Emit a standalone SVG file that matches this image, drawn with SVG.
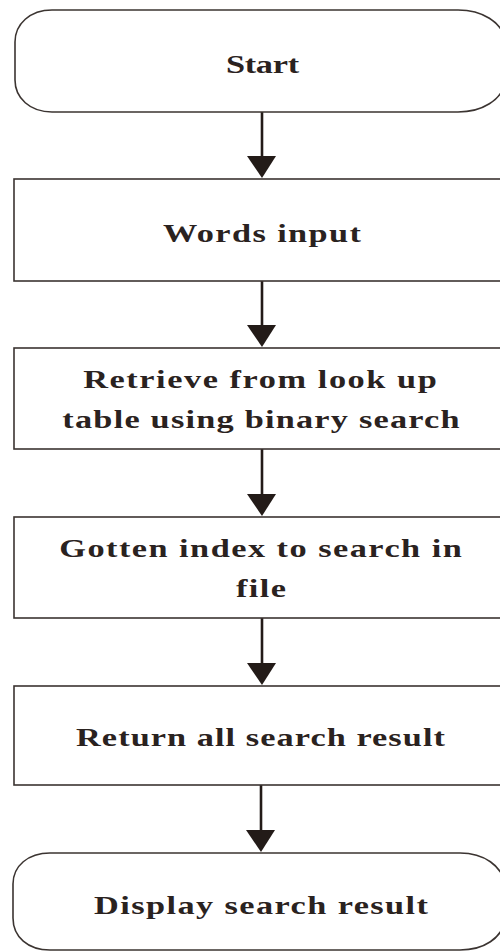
<svg xmlns="http://www.w3.org/2000/svg" width="500" height="951" viewBox="0 0 500 951">
  <defs>
    <style>
      .box { fill: #ffffff; stroke: #3b3431; stroke-width: 1.6; }
      .flow { stroke: #231b18; stroke-width: 2.6; fill: none; }
      .head { fill: #231b18; }
      .lbl { font-family: "Liberation Serif", "Times New Roman", serif; font-weight: bold; font-size: 26px; fill: #2a2220; text-anchor: middle; }
    </style>
  </defs>
  <rect width="500" height="951" fill="#ffffff"/>

  <!-- connectors -->
  <g id="connectors">
    <line class="flow" x1="262" y1="112" x2="262" y2="158"/>
    <polygon class="head" points="247,156 276,156 262,178"/>
    <line class="flow" x1="262" y1="281" x2="262" y2="327"/>
    <polygon class="head" points="247,325 276,325 262,347"/>
    <line class="flow" x1="262" y1="449" x2="262" y2="496"/>
    <polygon class="head" points="247,494 276,494 262,516"/>
    <line class="flow" x1="262" y1="618" x2="262" y2="665"/>
    <polygon class="head" points="247,663 276,663 262,685"/>
    <line class="flow" x1="261" y1="785" x2="261" y2="832"/>
    <polygon class="head" points="246,830 275,830 261,852"/>
  </g>

  <!-- terminal: Start -->
  <g id="start">
    <path class="box" d="M52,10 H458 C482,10 502,22 505,40 V82 C502,100 482,112 458,112 H52 C30,112 15,98 15,80 V42 C15,24 30,10 52,10 Z"/>
    <text class="lbl" transform="translate(262.5,73) scale(1.32,1)" x="0" y="0" textLength="55.5">Start</text>
  </g>

  <!-- process: Words input -->
  <g id="words-input">
    <rect class="box" x="14" y="179" width="500" height="102"/>
    <text class="lbl" transform="translate(262,242) scale(1.32,1)" x="0" y="0" textLength="150">Words input</text>
  </g>

  <!-- process: lookup table retrieval -->
  <g id="retrieve">
    <rect class="box" x="14" y="348" width="500" height="101"/>
    <text class="lbl" transform="translate(260,388) scale(1.32,1)" x="0" y="0" textLength="268">Retrieve from look up</text>
    <text class="lbl" transform="translate(261,428) scale(1.32,1)" x="0" y="0" textLength="301">table using binary search</text>
  </g>

  <!-- process: index lookup -->
  <g id="gotten-index">
    <rect class="box" x="14" y="517" width="500" height="101"/>
    <text class="lbl" transform="translate(260.5,557) scale(1.32,1)" x="0" y="0" textLength="305">Gotten index to search in</text>
    <text class="lbl" transform="translate(261,597) scale(1.32,1)" x="0" y="0" textLength="38">file</text>
  </g>

  <!-- process: return results -->
  <g id="return-results">
    <rect class="box" x="14" y="686" width="500" height="99"/>
    <text class="lbl" transform="translate(260.5,746) scale(1.32,1)" x="0" y="0" textLength="279.5">Return all search result</text>
  </g>

  <!-- terminal: display -->
  <g id="display">
    <path class="box" d="M50,853 H460 C484,853 502,866 505,884 V920 C502,938 484,950 460,950 H50 C28,950 13,937 13,918 V884 C13,866 28,853 50,853 Z"/>
    <text class="lbl" transform="translate(261,914) scale(1.32,1)" x="0" y="0" textLength="253">Display search result</text>
  </g>
</svg>
